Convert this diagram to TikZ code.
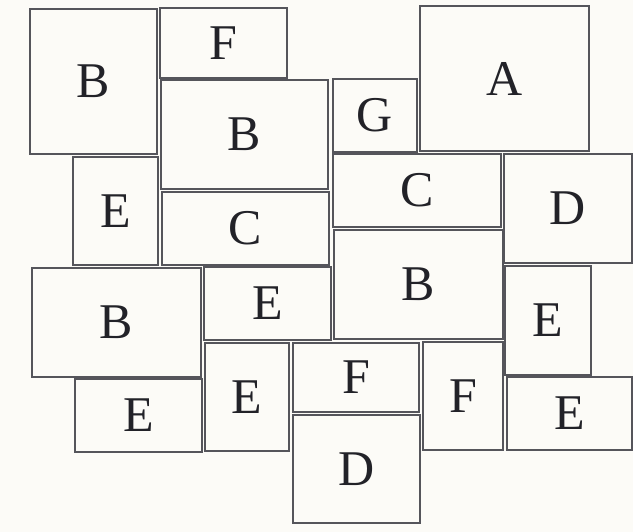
\documentclass[tikz,border=0pt]{standalone}
\usepackage{fontspec}
\setmainfont{Liberation Serif}
\definecolor{paper}{HTML}{FCFBF7}
\definecolor{edge}{HTML}{55555B}
\definecolor{ink}{HTML}{222228}
\begin{document}
\begin{tikzpicture}[x=1pt,y=-1pt,
  box/.style={draw=edge, line width=1.3pt, fill=paper, rectangle, inner sep=0pt,
    text=ink, font=\fontsize{50}{50}\selectfont}]
\fill[paper] (0,0) rectangle (633,532);
\useasboundingbox (0,0) rectangle (633,532);
\node[box, minimum width=127pt, minimum height=145pt] (b1) at (93.5,81.5) {B};
\node[box, minimum width=127pt, minimum height=70pt]  (f1) at (223.5,43) {F};
\node[box, minimum width=167pt, minimum height=109pt] (b2) at (244.5,134.5) {B};
\node[box, minimum width=84pt,  minimum height=73pt]  (g)  at (375,115.5) {G};
\node[box, minimum width=169pt, minimum height=145pt] (a)  at (504.5,78.5) {A};
\node[box, minimum width=85pt,  minimum height=108pt] (e1) at (115.5,211) {E};
\node[box, minimum width=167pt, minimum height=73pt]  (c1) at (245.5,228.5) {C};
\node[box, minimum width=168pt, minimum height=73pt]  (c2) at (417,190.5) {C};
\node[box, minimum width=128pt, minimum height=109pt] (d1) at (568,208.5) {D};
\node[box, minimum width=169pt, minimum height=109pt] (b3) at (116.5,322.5) {B};
\node[box, minimum width=127pt, minimum height=73pt]  (e2) at (267.5,303.5) {E};
\node[box, minimum width=169pt, minimum height=109pt] (b4) at (418.5,284.5) {B};
\node[box, minimum width=86pt,  minimum height=109pt] (e3) at (548,320.5) {E};
\node[box, minimum width=127pt, minimum height=73pt]  (e4) at (138.5,415.5) {E};
\node[box, minimum width=84pt,  minimum height=108pt] (e5) at (247,397) {E};
\node[box, minimum width=126pt, minimum height=69pt]  (f2) at (356,377.5) {F};
\node[box, minimum width=80pt,  minimum height=108pt] (f3) at (463,396) {F};
\node[box, minimum width=125pt, minimum height=73pt]  (e6) at (569.5,413.5) {E};
\node[box, minimum width=127pt, minimum height=108pt] (d2) at (356.5,469) {D};
\end{tikzpicture}
\end{document}
